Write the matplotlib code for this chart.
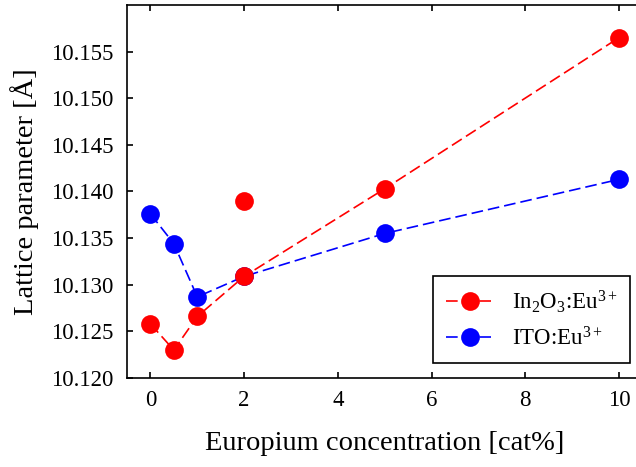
import numpy as np
import matplotlib
matplotlib.use("Agg")
import matplotlib.pyplot as plt

plt.rcParams["font.family"] = ["Liberation Serif", "DejaVu Serif"]
plt.rcParams["mathtext.fontset"] = "custom"
plt.rcParams["mathtext.rm"] = "Liberation Serif"
plt.rcParams["mathtext.it"] = "Liberation Serif:italic"

# Lattice parameter vs Eu concentration
conc_in2o3 = [0, 0.5, 1, 2, 5, 10]
lat_in2o3 = [10.1258, 10.1230, 10.1266, 10.1309, 10.1403, 10.1565]
# extra In2O3 sample at 2 cat% (not on the dashed trend)
conc_in2o3_extra = [2]
lat_in2o3_extra = [10.1390]

conc_ito = [0, 0.5, 1, 2, 5, 10]
lat_ito = [10.1376, 10.1344, 10.1287, 10.1309, 10.1355, 10.1413]

x_ticks = [0, 2, 4, 6, 8, 10]
y_ticks = [10.120, 10.125, 10.130, 10.135, 10.140, 10.145, 10.150, 10.155]

RED = "#ff0000"
BLUE = "#0000ff"

fig = plt.figure(figsize=(6.36, 4.67), dpi=100)
ax = fig.add_axes([127 / 636, 89 / 467, 515.5 / 636, 373 / 467])

dash = (0, (7, 3))
ax.plot(conc_ito, lat_ito, color=BLUE, linestyle=dash, linewidth=1.2,
        marker="o", markersize=13.5, markeredgewidth=0, zorder=2,
        label=r"ITO:Eu$^{\mathrm{3+}}$")
ax.plot(conc_in2o3, lat_in2o3, color=RED, linestyle=dash, linewidth=1.2,
        marker="o", markersize=13.5, markeredgewidth=0, zorder=3,
        label=r"In$_2$O$_3$:Eu$^{\mathrm{3+}}$")
ax.plot(conc_in2o3_extra, lat_in2o3_extra, color=RED, linestyle="none",
        marker="o", markersize=13.5, markeredgewidth=0, zorder=3)

ax.set_xlim(-0.5, 10.5)
ax.set_ylim(10.120, 10.160)
ax.set_xticks(x_ticks)
ax.set_yticks(y_ticks)
ax.set_yticklabels([f"{v:.3f}" for v in y_ticks])

ax.tick_params(direction="in", length=4, width=1.2, top=True, right=True,
               labelsize=16.5)
ax.tick_params(axis="x", pad=9)
ax.tick_params(axis="y", pad=10)
for sp in ax.spines.values():
    sp.set_linewidth(1.2)

ax.set_xlabel("Europium concentration [cat%]", fontsize=20.5, labelpad=14)
ax.set_ylabel("Lattice parameter [Å]", fontsize=20.5, labelpad=8)

handles, labels = ax.get_legend_handles_labels()
leg = ax.legend(handles[::-1], labels[::-1], loc="lower right",
                bbox_to_anchor=(0.976, 0.04), borderaxespad=0,
                fontsize=16.5, fancybox=False, framealpha=1,
                edgecolor="black", handlelength=2.1, handletextpad=0.8,
                labelspacing=0.55, borderpad=0.55)
leg.get_frame().set_linewidth(1.2)

fig.savefig("out.png", dpi=100)
